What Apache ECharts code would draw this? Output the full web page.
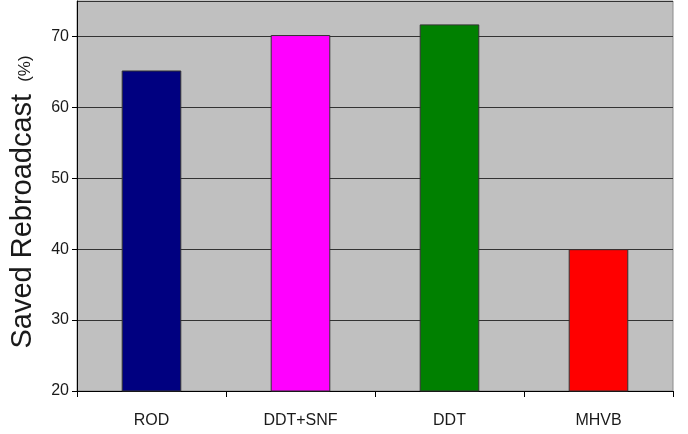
<!DOCTYPE html>
<html>
<head>
<meta charset="utf-8">
<script src="https://cdn.jsdelivr.net/npm/echarts@6/dist/echarts.min.js"></script>
<style>
  html, body { margin: 0; padding: 0; background: #ffffff; }
  #chart { width: 688px; height: 434px; }
</style>
</head>
<body>
<div id="chart"></div>
<script>
// Protocols compared
const categories = ['ROD', 'DDT+SNF', 'DDT', 'MHVB'];
// Saved rebroadcast, percent
const savedRebroadcast = [65.2, 70.2, 71.7, 40.0];
// Fill colour for each protocol's bar
const barColors = ['#000080', '#ff00ff', '#008000', '#ff0000'];
// Value axis range and step
const yMin = 20;
const yMax = 75;
const yStep = 10;

const chart = echarts.init(document.getElementById('chart'), null, { renderer: 'canvas' });

chart.setOption({
  animation: false,
  backgroundColor: '#ffffff',
  grid: {
    left: 75,
    right: 15,
    top: 1,
    bottom: 43,
    show: true,
    backgroundColor: '#c0c0c0',
    borderColor: '#8c8c8c',
    borderWidth: 1
  },
  xAxis: {
    type: 'category',
    data: categories,
    axisLine: { show: true, lineStyle: { color: '#000000', width: 1 } },
    axisTick: { show: true, alignWithLabel: false, length: 6, lineStyle: { color: '#000000' } },
    axisLabel: {
      color: '#1a1a1a',
      fontFamily: 'Liberation Sans, Arial, sans-serif',
      fontSize: 16,
      margin: 22
    },
    splitLine: { show: false }
  },
  yAxis: {
    type: 'value',
    min: yMin,
    max: yMax,
    interval: yStep,
    axisLine: { show: true, lineStyle: { color: '#000000', width: 1 } },
    axisTick: { show: true, length: 5, lineStyle: { color: '#000000' } },
    axisLabel: {
      color: '#1a1a1a',
      fontFamily: 'Liberation Sans, Arial, sans-serif',
      fontSize: 16,
      margin: 8,
      showMaxLabel: false
    },
    splitLine: { show: true, lineStyle: { color: '#333333', width: 1 } },
    name: '{big|Saved Rebroadcast}{small|(%)}',
    nameLocation: 'middle',
    nameGap: 40,
    nameTextStyle: {
      padding: [0, 12, 0, 0],
      rich: {
        big: { fontFamily: 'Liberation Sans, Arial, sans-serif', fontSize: 29, color: '#1a1a1a' },
        small: {
          fontFamily: 'Liberation Sans, Arial, sans-serif',
          fontSize: 17,
          color: '#1a1a1a',
          verticalAlign: 'bottom',
          padding: [0, 0, 3, 12]
        }
      }
    }
  },
  series: [{
    type: 'bar',
    data: savedRebroadcast.map((v, i) => ({ value: v, itemStyle: { color: barColors[i] } })),
    barCategoryGap: '60%',
    itemStyle: { borderColor: '#333333', borderWidth: 1 }
  }]
});
</script>
</body>
</html>
